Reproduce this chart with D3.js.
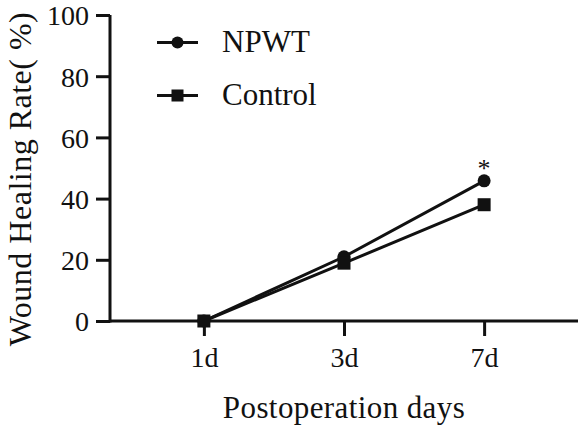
<!DOCTYPE html>
<html>
<head>
<meta charset="utf-8">
<script src="https://cdn.jsdelivr.net/npm/d3@7"></script>
<style>
  body { margin: 0; background: #fff; }
  svg text { font-family: serif; fill: #111; }
</style>
</head>
<body>
<div id="chart"></div>
<script>
// dati
const days = ["1d", "3d", "7d"];
const npwt = [0, 21, 45.8];
const control = [0, 18.9, 38];
const yTicks = [0, 20, 40, 60, 80, 100];
const seriesNames = ["NPWT", "Control"];

const width = 584, height = 429;
const margin = {top: 15, right: 6, bottom: 108, left: 110};
const font = "serif";

const svg = d3.select("#chart")
  .append("svg")
  .attr("width", width)
  .attr("height", height);

const x = d3.scalePoint()
  .domain(days)
  .range([margin.left, width - margin.right])
  .padding(0.67);

const y = d3.scaleLinear()
  .domain([0, 100])
  .range([height - margin.bottom, margin.top]);

// asse x
const gx = svg.append("g")
  .attr("transform", `translate(0, ${height - margin.bottom})`)
  .call(d3.axisBottom(x).tickSize(15).tickPadding(6).tickSizeOuter(0));
gx.attr("font-family", null).attr("font-size", null);
gx.select(".domain").attr("stroke", "#111").attr("stroke-width", 3)
  .attr("d", `M${margin.left},0H${width - margin.right}`);
gx.selectAll(".tick line").attr("stroke", "#111").attr("stroke-width", 3);
gx.selectAll(".tick text")
  .style("font-family", font).style("font-size", "28px")
  .attr("y", 46).attr("dy", null).attr("fill", "#111");

// asse y
const gy = svg.append("g")
  .attr("transform", `translate(${margin.left}, 0)`)
  .call(d3.axisLeft(y).tickValues(yTicks).tickSize(14).tickPadding(7).tickSizeOuter(0));
gy.attr("font-family", null).attr("font-size", null);
gy.select(".domain").attr("stroke", "#111").attr("stroke-width", 3)
  .attr("d", `M0,${y(100)}V${y(0) + 1.5}`);
gy.selectAll(".tick line").attr("stroke", "#111").attr("stroke-width", 3);
gy.selectAll(".tick text")
  .style("font-family", font).style("font-size", "28px")
  .attr("dy", "0.35em").attr("fill", "#111");

// titoli
svg.append("text")
  .attr("x", x("3d"))
  .attr("y", 418)
  .attr("text-anchor", "middle")
  .style("font-size", "31px")
  .style("letter-spacing", "0.4px")
  .text("Postoperation days");

svg.append("text")
  .attr("transform", `translate(31, ${179}) rotate(-90)`)
  .attr("text-anchor", "middle")
  .style("font-size", "32px")
  .style("letter-spacing", "0.5px")
  .text("Wound Healing Rate( %)");

// linee
const line = d3.line()
  .x((d, i) => x(days[i]))
  .y(d => y(d));

[npwt, control].forEach(serie => {
  svg.append("path")
    .datum(serie)
    .attr("fill", "none")
    .attr("stroke", "#111")
    .attr("stroke-width", 3)
    .attr("d", line);
});

// punti
svg.append("g")
  .selectAll("circle")
  .data(npwt)
  .join("circle")
  .attr("cx", (d, i) => x(days[i]))
  .attr("cy", d => y(d))
  .attr("r", 6.5)
  .attr("fill", "#111");

svg.append("g")
  .selectAll("rect")
  .data(control)
  .join("rect")
  .attr("x", (d, i) => x(days[i]) - 6.5)
  .attr("y", d => y(d) - 6.5)
  .attr("width", 13)
  .attr("height", 13)
  .attr("fill", "#111");

// asterisco
svg.append("text")
  .attr("x", x("7d"))
  .attr("y", y(npwt[2]) - 4)
  .attr("text-anchor", "middle")
  .style("font-size", "26px")
  .text("*");

// legenda
const legend = svg.append("g");
seriesNames.forEach((name, i) => {
  const ly = 42.5 + i * 53;
  legend.append("line")
    .attr("x1", 157).attr("x2", 198)
    .attr("y1", ly).attr("y2", ly)
    .attr("stroke", "#111").attr("stroke-width", 3);
  if (i === 0) {
    legend.append("circle").attr("cx", 177.5).attr("cy", ly).attr("r", 6).attr("fill", "#111");
  } else {
    legend.append("rect").attr("x", 171.5).attr("y", ly - 6).attr("width", 12).attr("height", 12).attr("fill", "#111");
  }
  legend.append("text")
    .attr("x", 222)
    .attr("y", ly + 9.5)
    .style("font-size", "31px")
    .text(name);
});
</script>
</body>
</html>
